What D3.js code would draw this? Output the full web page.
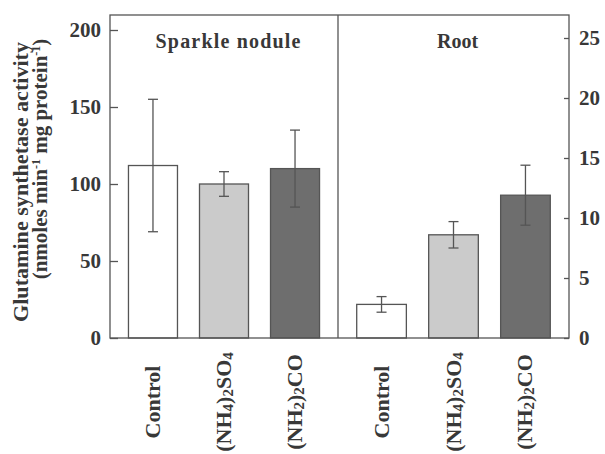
<!doctype html>
<html lang="en">
<head>
<meta charset="utf-8">
<title>Glutamine synthetase activity</title>
<script src="https://cdn.jsdelivr.net/npm/d3@7"></script>
<style>
  body { margin: 0; background: #fff; }
  text { font-family: "Liberation Serif", "Times New Roman", serif; font-weight: bold; fill: #383838; }
</style>
</head>
<body>
<div id="chart"></div>
<script>
// data
var treatments = ["Control", "(NH4)2SO4", "(NH2)2CO"];
var noduleMean = [112, 100, 110];
var noduleErr = [43, 8, 25];
var rootMean = [2.8, 8.6, 11.9];
var rootErr = [0.65, 1.1, 2.5];
var leftTicks = [0, 50, 100, 150, 200];
var rightTicks = [0, 5, 10, 15, 20, 25];
var fills = ["#ffffff", "#cbcbcb", "#6e6e6e"];

var W = 605, H = 454;
var x0 = 110, xMid = 338, x1 = 569, yTop = 15, yBot = 338;
var stroke = "#555";

var svg = d3.select("#chart").append("svg")
  .attr("width", W).attr("height", H);

var yL = d3.scaleLinear().domain([0, 200]).range([yBot, yBot - 308]);
var yR = d3.scaleLinear().domain([0, 25]).range([yBot, yBot - 300]);

var xL = d3.scaleBand().domain(treatments).range([x0, xMid]).paddingInner(0.31).paddingOuter(0.26);
var xR = d3.scaleBand().domain(treatments).range([xMid, x1]).paddingInner(0.31).paddingOuter(0.26);

// text with subscript digits
function subText(el, s, big, small) {
  var shift = 0;
  s.split(/(\d)/).forEach(function(part) {
    if (part === "") return;
    var isNum = /\d/.test(part);
    var target = isNum ? 2 : 0;
    el.append("tspan").text(part)
      .style("font-size", (isNum ? small : big) + "px")
      .attr("dy", target - shift);
    shift = target;
  });
}

// panels
function panel(x, y, means, errs) {
  var g = svg.append("g");
  var rows = treatments.map(function(t, i) { return {t: t, m: means[i], e: errs[i], i: i}; });
  g.selectAll("rect.bar").data(rows).enter().append("rect")
    .attr("class", "bar")
    .attr("x", function(d) { return x(d.t); })
    .attr("width", x.bandwidth())
    .attr("y", function(d) { return y(d.m); })
    .attr("height", function(d) { return yBot - y(d.m); })
    .attr("fill", function(d) { return fills[d.i]; })
    .attr("stroke", stroke).attr("stroke-width", 1.3);
  var eb = g.selectAll("g.err").data(rows).enter().append("g")
    .attr("transform", function(d) { return "translate(" + (x(d.t) + x.bandwidth() / 2) + ",0)"; });
  eb.append("line")
    .attr("y1", function(d) { return y(d.m + d.e); })
    .attr("y2", function(d) { return y(d.m - d.e); })
    .attr("stroke", stroke).attr("stroke-width", 1.3);
  eb.append("line").attr("x1", -5).attr("x2", 5)
    .attr("y1", function(d) { return y(d.m + d.e); })
    .attr("y2", function(d) { return y(d.m + d.e); })
    .attr("stroke", stroke).attr("stroke-width", 1.3);
  eb.append("line").attr("x1", -5).attr("x2", 5)
    .attr("y1", function(d) { return y(d.m - d.e); })
    .attr("y2", function(d) { return y(d.m - d.e); })
    .attr("stroke", stroke).attr("stroke-width", 1.3);

  // category labels, rotated
  g.selectAll("text.cat").data(rows).enter().append("text")
    .attr("class", "cat")
    .attr("transform", function(d) { return "translate(" + (x(d.t) + x.bandwidth() / 2 + 7) + ",402) rotate(-90)"; })
    .attr("text-anchor", "middle")
    .style("font-size", "22px")
    .each(function(d) { subText(d3.select(this), d.t, 22, 15); });
}
panel(xL, yL, noduleMean, noduleErr);
panel(xR, yR, rootMean, rootErr);

// frame
svg.append("rect").attr("x", x0).attr("y", yTop).attr("width", x1 - x0).attr("height", yBot - yTop)
  .attr("fill", "none").attr("stroke", stroke).attr("stroke-width", 1.3);
svg.append("line").attr("x1", xMid).attr("x2", xMid).attr("y1", yTop).attr("y2", yBot)
  .attr("stroke", stroke).attr("stroke-width", 1.3);

// axes
var axL = svg.append("g").attr("transform", "translate(" + x0 + ",0)")
  .call(d3.axisLeft(yL).tickValues(leftTicks).tickSizeInner(-8).tickSizeOuter(0).tickPadding(9));
var axR = svg.append("g").attr("transform", "translate(" + x1 + ",0)")
  .call(d3.axisRight(yR).tickValues(rightTicks).tickSizeInner(-5).tickSizeOuter(0).tickPadding(10));
[axL, axR].forEach(function(a) {
  a.select(".domain").remove();
  a.selectAll(".tick line").attr("stroke", stroke).attr("stroke-width", 1.3);
  a.selectAll(".tick text").style("font-size", "21px").style("font-family", null).attr("fill", null);
});

// panel titles
svg.append("text").attr("x", (x0 + xMid) / 2 + 4).attr("y", 48).attr("text-anchor", "middle")
  .style("font-size", "20px").attr("textLength", 145).text("Sparkle nodule");
svg.append("text").attr("x", (xMid + x1) / 2 + 4).attr("y", 48).attr("text-anchor", "middle")
  .style("font-size", "20px").text("Root");

// y title
svg.append("text").attr("transform", "translate(28,182) rotate(-90)")
  .attr("text-anchor", "middle").style("font-size", "20px")
  .attr("textLength", 280).attr("lengthAdjust", "spacingAndGlyphs")
  .text("Glutamine synthetase activity");
var t2 = svg.append("text").attr("transform", "translate(47,159) rotate(-90)")
  .attr("text-anchor", "middle").style("font-size", "21px");
t2.append("tspan").text("(nmoles min");
t2.append("tspan").text("-1").style("font-size", "12px").attr("dy", -7);
t2.append("tspan").text(" mg protein").attr("dy", 7);
t2.append("tspan").text("-1").style("font-size", "12px").attr("dy", -7);
t2.append("tspan").text(")").attr("dy", 7);
</script>
</body>
</html>
